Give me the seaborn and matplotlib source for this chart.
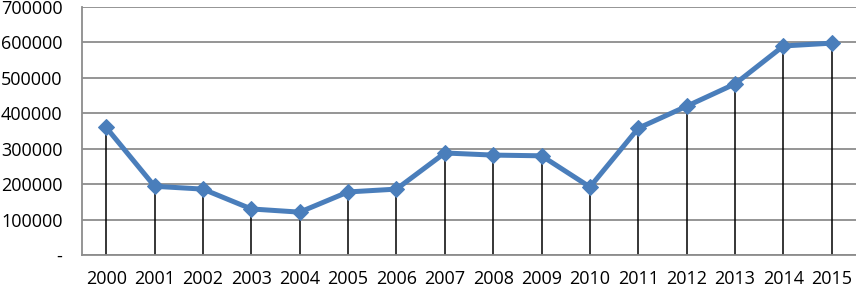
import matplotlib
matplotlib.use("Agg")
import matplotlib.pyplot as plt
import matplotlib.ticker as mticker
import pandas as pd
import seaborn as sns

# values
years = [2000, 2001, 2002, 2003, 2004, 2005, 2006, 2007,
         2008, 2009, 2010, 2011, 2012, 2013, 2014, 2015]
values = [360000, 194000, 186000, 130000, 121000, 178000, 186000, 288000,
          282000, 280000, 192000, 358000, 420000, 483000, 590000, 598000]
y_ticks = [0, 100000, 200000, 300000, 400000, 500000, 600000, 700000]

df = pd.DataFrame({"Year": years, "Value": values})

sns.set_style("white")
plt.rcParams["font.family"] = ["Open Sans", "DejaVu Sans"]

fig = plt.figure(figsize=(8.56, 2.89), dpi=100)
ax = fig.add_axes([0.0958, 0.1176, 0.9042, 0.8582])

# horizontal gridlines
ax.set_yticks(y_ticks)
ax.yaxis.grid(True, color="#8c8c8c", linewidth=1.3)
ax.set_axisbelow(True)

# drop lines from each point to the axis
ax.vlines(df["Year"], 0, df["Value"], colors="black", linewidth=1.1, zorder=2)

sns.lineplot(data=df, x="Year", y="Value", ax=ax, color="#4a7ebb",
             linewidth=3.6, marker="D", markersize=8.5,
             markeredgecolor="#4a7ebb", zorder=3)

ax.set_xlim(years[0] - 0.5, years[-1] + 0.5)
ax.set_ylim(y_ticks[0], y_ticks[-1])
ax.set_xticks(years)
ax.set_xticklabels([str(y) for y in years])
ax.yaxis.set_major_formatter(
    mticker.FuncFormatter(lambda v, p: "-" if v == 0 else f"{int(v)}"))

ax.set_xlabel("")
ax.set_ylabel("")
for side in ["top", "right"]:
    ax.spines[side].set_visible(False)
ax.spines["left"].set_color("#8c8c8c")
ax.spines["bottom"].set_color("#8c8c8c")
ax.spines["left"].set_linewidth(1.3)
ax.spines["bottom"].set_linewidth(1.3)
ax.tick_params(axis="both", length=0, labelsize=13, colors="black")
ax.tick_params(axis="x", pad=11)
ax.tick_params(axis="y", pad=14)

fig.savefig("out.png", dpi=100)
